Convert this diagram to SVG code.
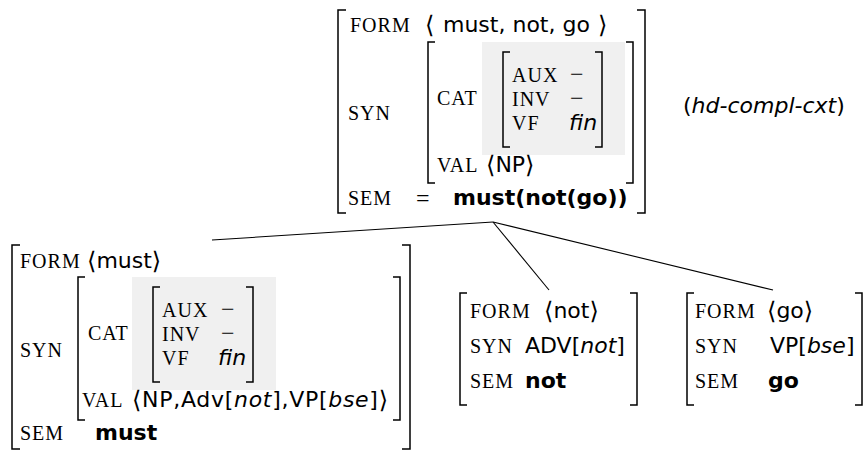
<svg xmlns="http://www.w3.org/2000/svg" width="865" height="452" viewBox="0 0 865 452">
<style>
.br{fill:none;stroke:#000;stroke-width:1.5}
.f{font-family:"Liberation Serif",serif;font-size:20px;letter-spacing:1px}
.s{font-family:"DejaVu Sans",sans-serif;font-size:22px}
.ab{font-family:"DejaVu Sans",sans-serif;font-size:24px;font-weight:normal;font-style:normal}
.m{font-family:"Liberation Serif",serif;font-size:24px}
.b{font-weight:bold}
.i{font-style:italic}
.box{fill:#f0f0f0}
.edge{stroke:#000;stroke-width:1.1;fill:none}
</style>
<rect width="865" height="452" fill="#fff"/>
<g id="connectors">
<line class="edge" x1="493" y1="222" x2="212" y2="240"/>
<line class="edge" x1="493" y1="222" x2="549" y2="290"/>
<line class="edge" x1="493" y1="222" x2="773" y2="290"/>
</g>
<g id="node-top">
<rect class="box" x="482" y="42" width="143" height="113"/>
<path class="br" d="M346,10H338V213H346M637,10H645V213H637"/>
<path class="br" d="M435,42H428V183H435M626,42H633V183H626"/>
<path class="br" d="M510,52H503V147H510M595,52H602V147H595"/>
<text class="f" x="350" y="32">FORM</text>
<text class="ab" x="425" y="33">⟨</text>
<text class="s" x="443" y="32">must, not, go</text>
<text class="ab" x="598" y="33">⟩</text>
<text class="f" x="348" y="120">SYN</text>
<text class="f" x="437" y="105">CAT</text>
<text class="f" x="512" y="82">AUX</text>
<text class="m" x="570" y="82">−</text>
<text class="f" x="512" y="106">INV</text>
<text class="m" x="570" y="106">−</text>
<text class="f" x="512" y="130">VF</text>
<text class="s i" x="569" y="130">fin</text>
<text class="f" x="437" y="172">VAL</text>
<text class="s" x="486" y="172"><tspan class="ab" dy="1">⟨</tspan><tspan dy="-1">NP</tspan><tspan class="ab" dy="1">⟩</tspan></text>
<text class="f" x="348" y="205">SEM</text>
<text class="m" x="416" y="206">=</text>
<text class="s b" x="453" y="205">must(not(go))</text>
</g>
<g id="label-cxt">
<text class="s" x="683" y="113" font-size="23">(<tspan class="i">hd-compl-cxt</tspan>)</text>
</g>
<g id="node-must">
<rect class="box" x="132" y="277" width="144" height="113"/>
<path class="br" d="M20,245H12V449H20M402,245H410V449H402"/>
<path class="br" d="M85,277H78V420H85M393,277H400V420H393"/>
<path class="br" d="M160,287H153V382H160M246,287H253V382H246"/>
<text class="f" x="20" y="268">FORM</text>
<text class="s" x="87" y="268"><tspan class="ab" dy="1">⟨</tspan><tspan dy="-1">must</tspan><tspan class="ab" dy="1">⟩</tspan></text>
<text class="f" x="20" y="357">SYN</text>
<text class="f" x="88" y="340">CAT</text>
<text class="f" x="162" y="317">AUX</text>
<text class="m" x="221" y="317">−</text>
<text class="f" x="162" y="341">INV</text>
<text class="m" x="221" y="341">−</text>
<text class="f" x="162" y="365">VF</text>
<text class="s i" x="218" y="365">fin</text>
<text class="f" x="82" y="407">VAL</text>
<text class="s" x="132" y="407" textLength="256" lengthAdjust="spacing"><tspan class="ab" dy="1">⟨</tspan><tspan dy="-1">NP,Adv[</tspan><tspan class="i">not</tspan>],VP[<tspan class="i">bse</tspan>]<tspan class="ab" dy="1">⟩</tspan></text>
<text class="f" x="20" y="440">SEM</text>
<text class="s b" x="95" y="440">must</text>
</g>
<g id="node-not">
<path class="br" d="M467,293H460V405H467M630,293H637V405H630"/>
<text class="f" x="470" y="318">FORM</text>
<text class="s" x="544" y="318"><tspan class="ab" dy="1">⟨</tspan><tspan dy="-1">not</tspan><tspan class="ab" dy="1">⟩</tspan></text>
<text class="f" x="470" y="353">SYN</text>
<text class="s" x="525" y="353">ADV[<tspan class="i">not</tspan>]</text>
<text class="f" x="470" y="388">SEM</text>
<text class="s b" x="525" y="388">not</text>
</g>
<g id="node-go">
<path class="br" d="M694,293H687V405H694M855,293H862V405H855"/>
<text class="f" x="695" y="318">FORM</text>
<text class="s" x="767" y="318"><tspan class="ab" dy="1">⟨</tspan><tspan dy="-1">go</tspan><tspan class="ab" dy="1">⟩</tspan></text>
<text class="f" x="695" y="353">SYN</text>
<text class="s" x="770" y="353">VP[<tspan class="i">bse</tspan>]</text>
<text class="f" x="695" y="388">SEM</text>
<text class="s b" x="768" y="388">go</text>
</g>
</svg>
